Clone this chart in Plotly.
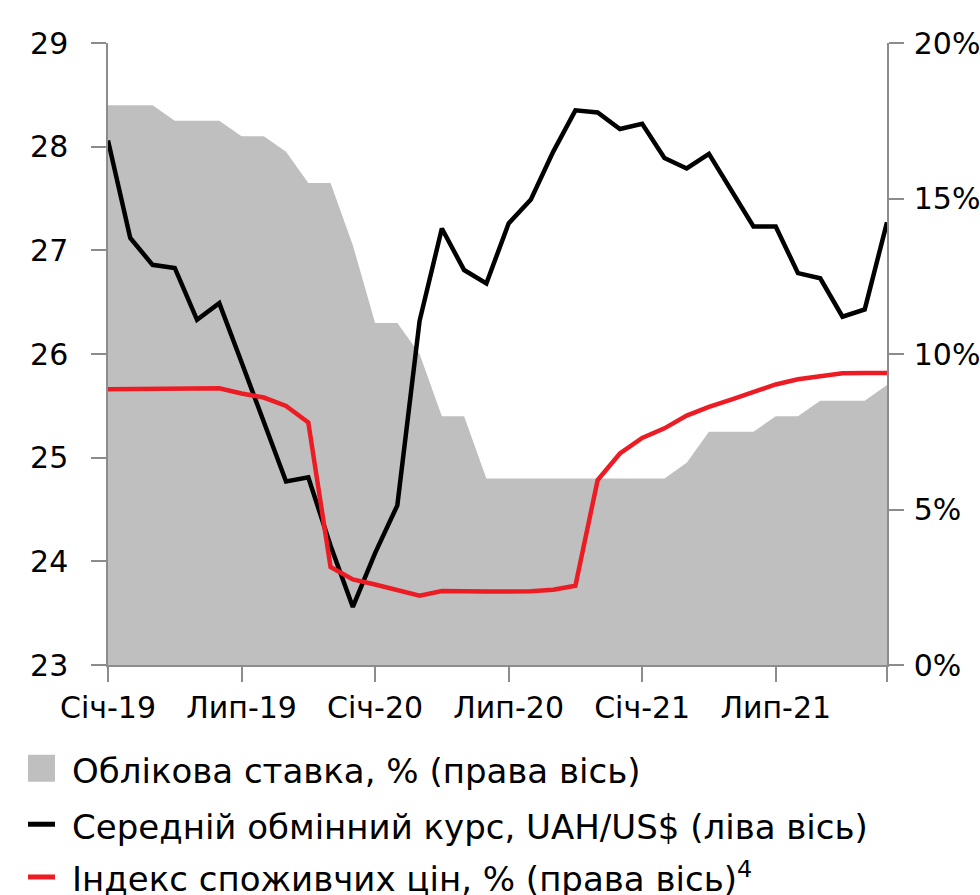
import plotly.graph_objects as go

MONTHS = ["Січ", "Лют", "Бер", "Кві", "Тра", "Чер", "Лип", "Сер", "Вер", "Жов", "Лис", "Гру"]
YEARS = ["19", "20", "21"]
periods = [f"{m}-{y}" for y in YEARS for m in MONTHS]

# NBU policy rate, % (right axis)
policy_rate = [18, 18, 18, 17.5, 17.5, 17.5, 17, 17, 16.5, 15.5, 15.5, 13.5,
               11, 11, 10, 8, 8, 6, 6, 6, 6, 6, 6, 6,
               6, 6, 6.5, 7.5, 7.5, 7.5, 8, 8, 8.5, 8.5, 8.5, 9]

# Average exchange rate, UAH/US$ (left axis)
fx_rate = [28.06, 27.12, 26.86, 26.83, 26.33, 26.49, 25.92, 25.34, 24.77, 24.81, 24.15, 23.56,
           24.08, 24.54, 26.32, 27.21, 26.81, 26.68, 27.26, 27.49, 27.95, 28.35, 28.33, 28.17,
           28.22, 27.89, 27.79, 27.93, 27.58, 27.23, 27.23, 26.78, 26.73, 26.36, 26.43, 27.27]

# Consumer price index, % (right axis)
cpi = [8.87, 8.88, 8.9, 8.9, 8.9, 8.9, 8.73, 8.6, 8.33, 7.8, 3.15, 2.75,
       2.59, 2.41, 2.23, 2.38, 2.36, 2.36, 2.36, 2.37, 2.42, 2.55, 5.95, 6.8,
       7.3, 7.61, 8.02, 8.3, 8.53, 8.79, 9.02, 9.19, 9.3, 9.38, 9.39, 9.39]

tick_periods = ["Січ-19", "Лип-19", "Січ-20", "Лип-20", "Січ-21", "Лип-21", "Гру-21"]
tick_labels = ["Січ-19", "Лип-19", "Січ-20", "Лип-20", "Січ-21", "Лип-21", ""]
left_ticks = [23, 24, 25, 26, 27, 28, 29]
right_ticks = [0, 5, 10, 15, 20]
right_labels = ["0%", "5%", "10%", "15%", "20%"]

legend_names = ["Облікова ставка, % (права вісь)",
                "Середній обмінний курс, UAH/US$ (ліва вісь)",
                "Індекс споживчих цін, % (права вісь)<sup>4</sup>"]

GRAY = "#bfbfbf"
RED = "#ec1c24"
AXIS = "#8c8c8c"
FONT = "DejaVu Sans"

fig = go.Figure()
# base axis (y): right-hand % axis with the policy-rate area
fig.add_trace(go.Scatter(x=periods, y=policy_rate, yaxis="y", mode="lines",
                         line=dict(width=0, color=GRAY), fill="tozeroy", fillcolor=GRAY,
                         showlegend=False, name=legend_names[0], hoverinfo="skip"))
# overlay (y2): left-hand exchange-rate axis
fig.add_trace(go.Scatter(x=periods, y=fx_rate, yaxis="y2", mode="lines",
                         line=dict(width=4.5, color="black"), showlegend=False,
                         name=legend_names[1], hoverinfo="skip"))
# overlay (y3): same scale as right axis, for CPI drawn on top
fig.add_trace(go.Scatter(x=periods, y=cpi, yaxis="y3", mode="lines",
                         line=dict(width=4.5, color=RED), showlegend=False,
                         name=legend_names[2], hoverinfo="skip"))

axis_common = dict(ticks="outside", ticklen=15, tickwidth=1.5, tickcolor=AXIS, showline=True,
                   linecolor=AXIS, linewidth=1.5, showgrid=False, zeroline=False,
                   automargin=False)

fig.update_layout(
    width=980, height=895,
    margin=dict(l=108, r=93, t=43, b=230),
    paper_bgcolor="white", plot_bgcolor="white",
    font=dict(family=FONT, size=30, color="black"),
    xaxis=dict(type="category", range=[0, len(periods) - 1], tickmode="array",
               tickvals=tick_periods, ticktext=tick_labels, tickfont=dict(size=30),
               ticklabelstandoff=0, **axis_common),
    yaxis=dict(range=[0, 20], tickmode="array", tickvals=right_ticks, ticktext=right_labels,
               side="right", tickfont=dict(size=30), ticklabelstandoff=4, **axis_common),
    yaxis2=dict(range=[23, 29], tickmode="array", tickvals=left_ticks, overlaying="y",
                side="left", tickfont=dict(size=30), ticklabelstandoff=17, **axis_common),
    yaxis3=dict(range=[0, 20], overlaying="y", side="right", visible=False),
)

# manual legend (icons + labels) below the plot
rows_y = [-0.166, -0.256, -0.3408]
text_dy = [-0.005, -0.005, 0.0]
icon_x0, icon_x1, text_x = -0.1027, -0.068, -0.049
fig.add_shape(type="rect", xref="paper", yref="paper", x0=icon_x0, x1=icon_x1,
              y0=rows_y[0] - 0.0217, y1=rows_y[0] + 0.0217, fillcolor=GRAY, line_width=0)
fig.add_shape(type="line", xref="paper", yref="paper", x0=icon_x0, x1=icon_x1,
              y0=rows_y[1], y1=rows_y[1], line=dict(color="black", width=5))
fig.add_shape(type="line", xref="paper", yref="paper", x0=icon_x0, x1=icon_x1,
              y0=rows_y[2], y1=rows_y[2], line=dict(color=RED, width=5))
for name, ry, dy in zip(legend_names, rows_y, text_dy):
    fig.add_annotation(text=name, xref="paper", yref="paper", x=text_x, y=ry + dy,
                       xanchor="left", yanchor="middle", showarrow=False,
                       font=dict(family=FONT, size=34, color="black"))

fig.write_html("out.html", config={"displayModeBar": False},
               post_script="document.body.style.margin='0';")
